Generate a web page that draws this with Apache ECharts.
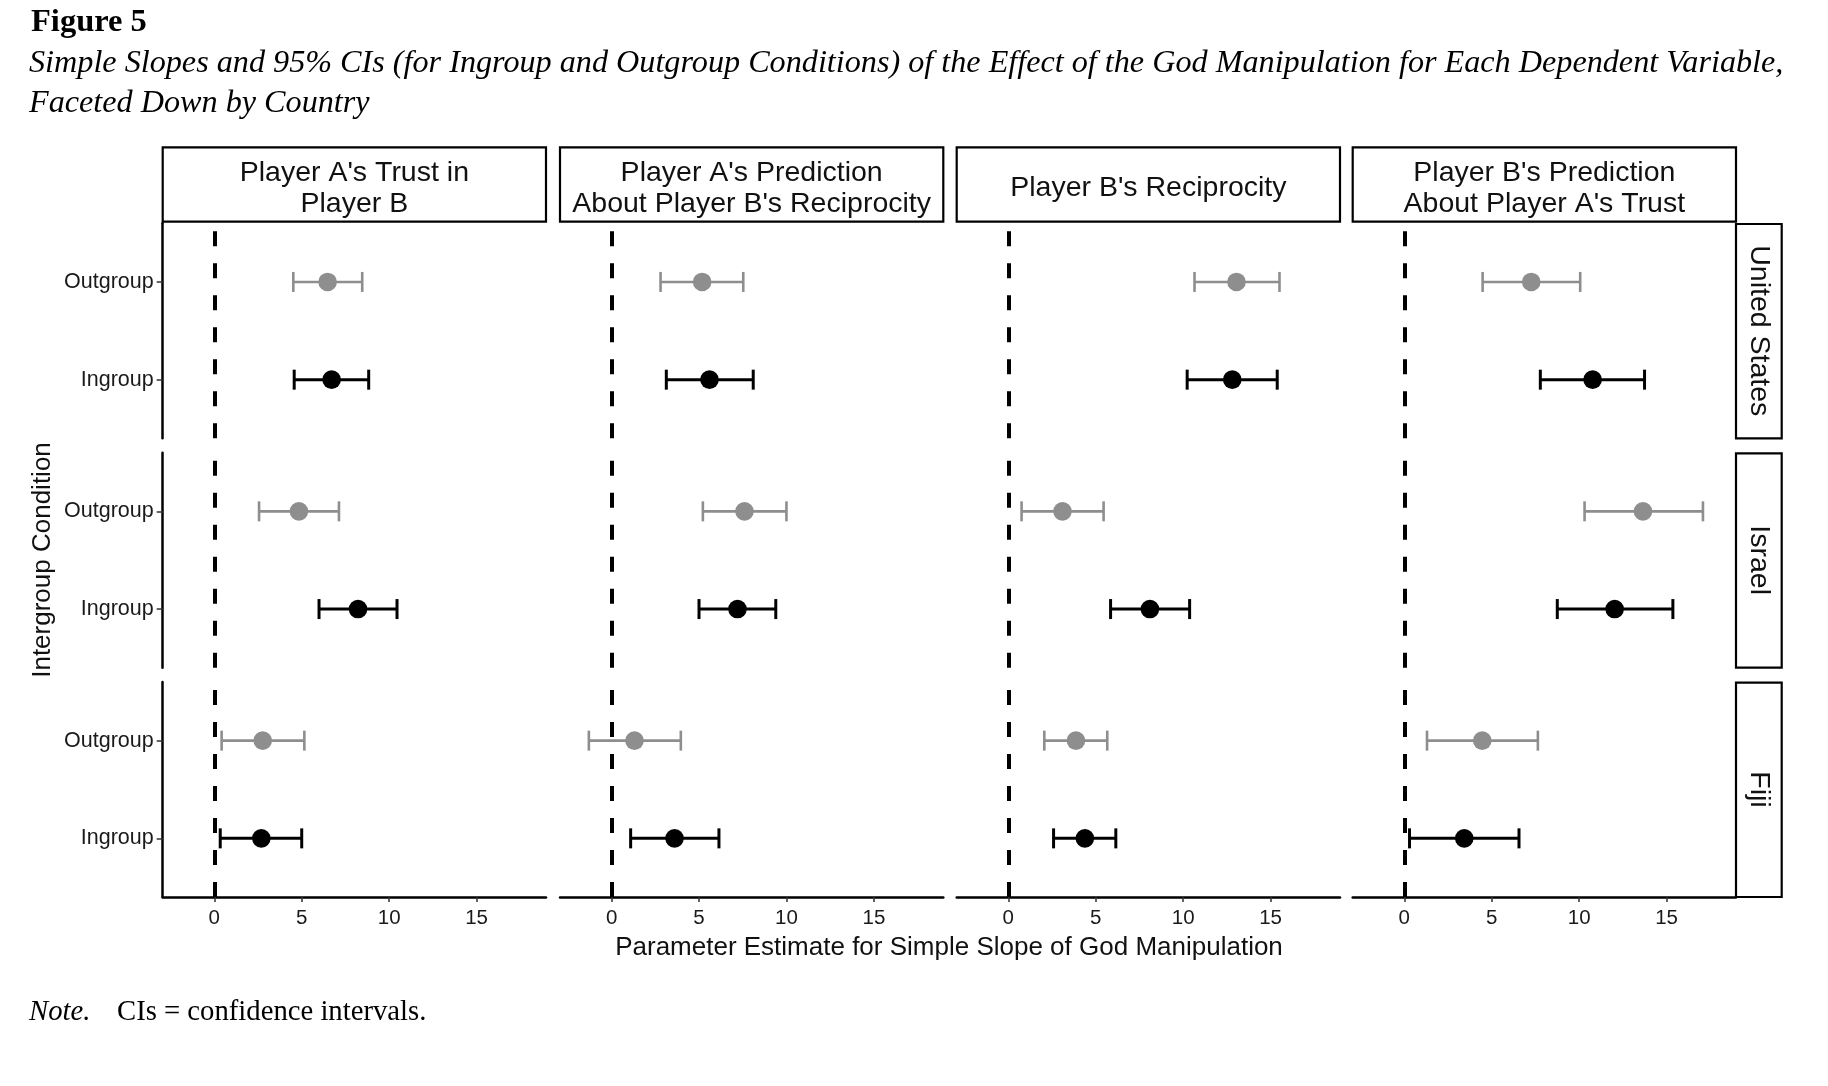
<!DOCTYPE html>
<html><head><meta charset="utf-8">
<script src="https://cdn.jsdelivr.net/npm/echarts@6/dist/echarts.min.js"></script>
<style>html,body{margin:0;padding:0;background:#fff}#c{width:1828px;height:1086px}</style>
</head><body><div id="c"></div>
<script>
// ---------- data ----------
const countries = ['United States', 'Israel', 'Fiji'];
const conditions = ['Ingroup', 'Outgroup'];
const measures = [
  "Player A's Trust in\nPlayer B",
  "Player A's Prediction\nAbout Player B's Reciprocity",
  "Player B's Reciprocity",
  "Player B's Prediction\nAbout Player A's Trust"
];
const xTicks = [0, 5, 10, 15];
// rows: [country, condition, lower CI, estimate, upper CI]
const playerATrust = [
  ['United States', 'Outgroup', 4.52, 6.48, 8.46],
  ['United States', 'Ingroup', 4.57, 6.71, 8.83],
  ['Israel', 'Outgroup', 2.56, 4.84, 7.13],
  ['Israel', 'Ingroup', 5.99, 8.22, 10.45],
  ['Fiji', 'Outgroup', 0.42, 2.77, 5.15],
  ['Fiji', 'Ingroup', 0.34, 2.69, 5.00]
];
const playerAPrediction = [
  ['United States', 'Outgroup', 2.80, 5.18, 7.53],
  ['United States', 'Ingroup', 3.13, 5.60, 8.10],
  ['Israel', 'Outgroup', 5.22, 7.60, 10.00],
  ['Israel', 'Ingroup', 5.00, 7.20, 9.39],
  ['Fiji', 'Outgroup', -1.30, 1.31, 3.96],
  ['Fiji', 'Ingroup', 1.09, 3.60, 6.14]
];
const playerBReciprocity = [
  ['United States', 'Outgroup', 10.65, 13.05, 15.51],
  ['United States', 'Ingroup', 10.23, 12.81, 15.38],
  ['Israel', 'Outgroup', 0.76, 3.10, 5.45],
  ['Israel', 'Ingroup', 5.85, 8.10, 10.37],
  ['Fiji', 'Outgroup', 2.06, 3.87, 5.66],
  ['Fiji', 'Ingroup', 2.59, 4.38, 6.15]
];
const playerBPrediction = [
  ['United States', 'Outgroup', 4.48, 7.26, 10.06],
  ['United States', 'Ingroup', 7.78, 10.77, 13.74],
  ['Israel', 'Outgroup', 10.31, 13.65, 17.08],
  ['Israel', 'Ingroup', 8.75, 12.03, 15.36],
  ['Fiji', 'Outgroup', 1.30, 4.46, 7.64],
  ['Fiji', 'Ingroup', 0.30, 3.43, 6.56]
];
const measureData = [playerATrust, playerAPrediction, playerBReciprocity, playerBPrediction];

// ---------- layout ----------
const colLeft = [162.7, 560, 956.7, 1352.7];
const colW = 383.3;
const rowTop = [223.3, 452.7, 682];
const rowH = 215;
const xMin = -2.95, xMax = 18.97;
const SANS = '"Liberation Sans", Arial, sans-serif';
const SERIF = '"Liberation Serif", "Times New Roman", serif';
const colorIn = '#000000', colorOut = '#8e8e8e';

const grids = [], xAxes = [], yAxes = [], series = [];
let gi = 0;
for (let r = 0; r < countries.length; r++) {
  for (let c = 0; c < measures.length; c++) {
    grids.push({left: colLeft[c], top: rowTop[r], width: colW, height: rowH, containLabel: false});
    const bottom = r === countries.length - 1;
    xAxes.push({
      type: 'value', gridIndex: gi, min: xMin, max: xMax, show: bottom,
      axisLine: {show: true, onZero: false, lineStyle: {color: '#000', width: 2.5}},
      axisTick: {show: true, length: 5, customValues: xTicks, lineStyle: {color: '#333', width: 1.5}},
      axisLabel: {show: true, customValues: xTicks, color: '#1a1a1a', fontSize: 20.5, fontFamily: SANS, margin: 11},
      splitLine: {show: false}
    });
    yAxes.push({
      type: 'value', gridIndex: gi, min: 0.4, max: 2.6, show: c === 0,
      axisLine: {show: true, onZero: false, lineStyle: {color: '#000', width: 2.5}},
      axisTick: {show: true, length: 6, customValues: [1, 2], lineStyle: {color: '#333', width: 1.5}},
      axisLabel: {show: true, customValues: [1, 2], color: '#1a1a1a', fontSize: 21.5, fontFamily: SANS, margin: 9,
        formatter: v => conditions[Math.round(v) - 1]},
      splitLine: {show: false}
    });
    const rows = measureData[c].filter(d => d[0] === countries[r])
      .map(d => [conditions.indexOf(d[1]) + 1, d[2], d[3], d[4]]);
    series.push({
      type: 'custom', xAxisIndex: gi, yAxisIndex: gi, z: 3,
      data: rows,
      encode: {x: [1, 2, 3], y: 0},
      renderItem: function (params, api) {
        const yv = api.value(0);
        const lo = api.coord([api.value(1), yv]);
        const est = api.coord([api.value(2), yv]);
        const hi = api.coord([api.value(3), yv]);
        const isIn = yv === 1;
        const col = isIn ? colorIn : colorOut;
        const lw = isIn ? 3 : 2.6;
        const cap = 10;
        return {
          type: 'group',
          children: [
            {type: 'line', shape: {x1: lo[0], y1: lo[1], x2: hi[0], y2: hi[1]}, style: {stroke: col, lineWidth: lw}},
            {type: 'line', shape: {x1: lo[0], y1: lo[1] - cap, x2: lo[0], y2: lo[1] + cap}, style: {stroke: col, lineWidth: lw}},
            {type: 'line', shape: {x1: hi[0], y1: hi[1] - cap, x2: hi[0], y2: hi[1] + cap}, style: {stroke: col, lineWidth: lw}},
            {type: 'circle', shape: {cx: est[0], cy: est[1], r: 9.3}, style: {fill: col}}
          ]
        };
      },
      markLine: {
        silent: true, symbol: ['none', 'none'], label: {show: false}, z: 2,
        lineStyle: {color: '#000', width: 4, type: [15, 17]},
        data: [{xAxis: 0}]
      }
    });
    gi++;
  }
}

// ---------- graphics (strips, titles) ----------
const graphic = [];
for (let c = 0; c < measures.length; c++) {
  graphic.push({type: 'rect', shape: {x: colLeft[c], y: 147.3, width: colW, height: 74.4},
    style: {fill: '#fff', stroke: '#000', lineWidth: 2.2}});
  graphic.push({type: 'text', x: colLeft[c] + colW / 2, y: 188.5,
    style: {text: measures[c], font: '28.5px ' + SANS, fill: '#111', textAlign: 'center', textVerticalAlign: 'middle', verticalAlign: 'middle', lineHeight: 30.5}});
}
for (let r = 0; r < countries.length; r++) {
  graphic.push({type: 'rect', shape: {x: 1736, y: rowTop[r] + 0.7, width: 45.7, height: rowH - 0.7},
    style: {fill: '#fff', stroke: '#000', lineWidth: 2.2}});
  graphic.push({type: 'text', x: 1759, y: rowTop[r] + rowH / 2, rotation: -Math.PI / 2,
    style: {text: countries[r], font: '28.5px ' + SANS, fill: '#111', textAlign: 'center', textVerticalAlign: 'middle', verticalAlign: 'middle'}});
}
graphic.push({type: 'text', x: 43, y: 560, rotation: Math.PI / 2,
  style: {text: 'Intergroup Condition', font: '26px ' + SANS, fill: '#111', textAlign: 'center', textVerticalAlign: 'middle', verticalAlign: 'middle'}});
graphic.push({type: 'text', x: 949, y: 948,
  style: {text: 'Parameter Estimate for Simple Slope of God Manipulation', font: '26px ' + SANS, fill: '#111', textAlign: 'center', textVerticalAlign: 'middle', verticalAlign: 'middle'}});
graphic.push({type: 'text', x: 31, y: 23,
  style: {text: 'Figure 5', font: 'bold 32.5px ' + SERIF, fill: '#000', textAlign: 'left', textVerticalAlign: 'middle', verticalAlign: 'middle'}});
graphic.push({type: 'text', x: 29, y: 63.5,
  style: {text: 'Simple Slopes and 95% CIs (for Ingroup and Outgroup Conditions) of the Effect of the God Manipulation for Each Dependent Variable,', font: 'italic 32.2px ' + SERIF, fill: '#000', textAlign: 'left', textVerticalAlign: 'middle', verticalAlign: 'middle'}});
graphic.push({type: 'text', x: 29, y: 103.5,
  style: {text: 'Faceted Down by Country', font: 'italic 32.2px ' + SERIF, fill: '#000', textAlign: 'left', textVerticalAlign: 'middle', verticalAlign: 'middle'}});
graphic.push({type: 'text', x: 29, y: 1012,
  style: {text: 'Note.', font: 'italic 28.7px ' + SERIF, fill: '#000', textAlign: 'left', textVerticalAlign: 'middle', verticalAlign: 'middle'}});
graphic.push({type: 'text', x: 117, y: 1012,
  style: {text: 'CIs = confidence intervals.', font: '28.7px ' + SERIF, fill: '#000', textAlign: 'left', textVerticalAlign: 'middle', verticalAlign: 'middle'}});

const chart = echarts.init(document.getElementById('c'), null, {renderer: 'canvas'});
chart.setOption({
  backgroundColor: '#fff',
  animation: false,
  grid: grids, xAxis: xAxes, yAxis: yAxes, series: series, graphic: graphic
});
</script></body></html>
